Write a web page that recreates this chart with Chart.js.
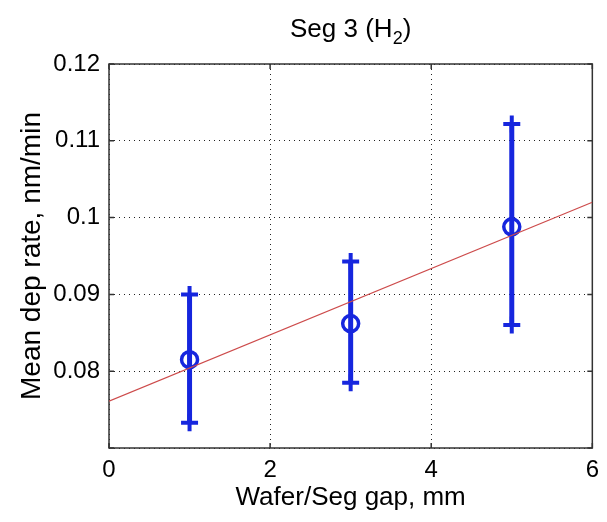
<!DOCTYPE html>
<html>
<head>
<meta charset="utf-8">
<script src="https://cdn.jsdelivr.net/npm/chart.js@4/dist/chart.umd.min.js"></script>
<style>
  html, body { margin: 0; padding: 0; background: #fff; }
  #wrap { width: 607px; height: 522px; }
</style>
</head>
<body>
<div id="wrap"><canvas id="chart"></canvas></div>
<script>
// Segment 3 (H2) deposition rate vs wafer/segment gap
const gaps = [1, 3, 5];
const meanRate = [0.0815, 0.0862, 0.0988];
const upperRate = [0.0900, 0.0943, 0.1122];
const lowerRate = [0.0733, 0.0785, 0.0860];

// linear fit line end points
const fitX = [0, 6];
const fitY = [0.0761, 0.1020];

const xTicks = [0, 2, 4, 6];
const yTicks = [0.07, 0.08, 0.09, 0.1, 0.11, 0.12];

const blue = 'rgb(22, 38, 222)';
const red = 'rgb(205, 75, 75)';
const font = 'Liberation Sans, Arial, Helvetica, sans-serif';

// fit line first so it is drawn on top
const datasets = [{
    data: fitX.map((x, i) => ({ x: x, y: fitY[i] })),
    showLine: true,
    borderColor: red,
    borderWidth: 1.2,
    pointRadius: 0
}, {
    data: gaps.map((g, i) => ({ x: g, y: meanRate[i] })),
    showLine: false,
    pointStyle: 'circle',
    pointRadius: 8,
    pointBorderWidth: 3.5,
    pointBorderColor: blue,
    pointBackgroundColor: 'rgba(0,0,0,0)'
}];

gaps.forEach((g, i) => {
    datasets.push({
        data: [{ x: g, y: lowerRate[i] }, { x: g, y: upperRate[i] }],
        showLine: true,
        borderColor: blue,
        borderWidth: 5,
        pointStyle: 'cross',
        pointRadius: 8.5,
        pointBorderWidth: 4,
        pointBorderColor: blue
    });
});

// solid frame, inward tick marks and the title with subscript
const framePlugin = {
    id: 'frame',
    beforeDatasetsDraw(chart) {
        const { ctx, chartArea: a, scales } = chart;
        ctx.save();
        ctx.strokeStyle = '#333';
        ctx.lineWidth = 1.5;
        ctx.strokeRect(a.left, a.top, a.right - a.left, a.bottom - a.top);
        ctx.beginPath();
        scales.x.ticks.forEach(t => {
            const px = scales.x.getPixelForValue(t.value);
            ctx.moveTo(px, a.bottom); ctx.lineTo(px, a.bottom - 5);
            ctx.moveTo(px, a.top); ctx.lineTo(px, a.top + 5);
        });
        scales.y.ticks.forEach(t => {
            const py = scales.y.getPixelForValue(t.value);
            ctx.moveTo(a.left, py); ctx.lineTo(a.left + 5, py);
            ctx.moveTo(a.right, py); ctx.lineTo(a.right - 5, py);
        });
        ctx.stroke();
        ctx.restore();
    },
    afterDraw(chart) {
        const { ctx, chartArea: a } = chart;
        const main = '26px ' + font;
        const sub = '18px ' + font;
        ctx.save();
        ctx.fillStyle = '#000';
        ctx.textBaseline = 'alphabetic';
        ctx.font = main;
        const w1 = ctx.measureText('Seg 3 (H').width;
        const w3 = ctx.measureText(')').width;
        ctx.font = sub;
        const w2 = ctx.measureText('2').width;
        let x = (a.left + a.right) / 2 - (w1 + w2 + w3) / 2;
        const y = 37;
        ctx.font = main;
        ctx.fillText('Seg 3 (H', x, y);
        x += w1;
        ctx.font = sub;
        ctx.fillText('2', x, y + 7);
        x += w2;
        ctx.font = main;
        ctx.fillText(')', x, y);
        ctx.restore();
    }
};

new Chart(document.getElementById('chart'), {
    type: 'scatter',
    data: { datasets: datasets },
    options: {
        responsive: true,
        maintainAspectRatio: false,
        animation: false,
        layout: { padding: { left: 0, right: 12, top: 64, bottom: 0 } },
        plugins: {
            legend: { display: false },
            tooltip: { enabled: false },
            title: { display: false }
        },
        scales: {
            x: {
                type: 'linear',
                min: 0,
                max: 6,
                afterBuildTicks: axis => { axis.ticks = xTicks.map(v => ({ value: v })); },
                afterFit: axis => { axis.height = 74; },
                ticks: {
                    color: '#000',
                    padding: 8,
                    font: { family: font, size: 24 },
                    callback: v => String(v)
                },
                grid: { color: '#222', lineWidth: 1, drawTicks: false },
                border: { display: false, dash: [1, 4] },
                title: {
                    display: true,
                    text: 'Wafer/Seg gap, mm',
                    color: '#000',
                    font: { family: font, size: 26, lineHeight: 1 },
                    padding: { top: 0, bottom: 11 }
                }
            },
            y: {
                type: 'linear',
                min: 0.07,
                max: 0.12,
                afterBuildTicks: axis => { axis.ticks = yTicks.map(v => ({ value: v })); },
                afterFit: axis => { axis.width = 109; },
                ticks: {
                    color: '#000',
                    padding: 9,
                    font: { family: font, size: 24 },
                    callback: v => (v < 0.075 ? '' : String(Number(v.toFixed(2))))
                },
                grid: { color: '#222', lineWidth: 1, drawTicks: false },
                border: { display: false, dash: [1, 4] },
                title: {
                    display: true,
                    text: 'Mean dep rate, nm/min',
                    color: '#000',
                    font: { family: font, size: 28, lineHeight: 1 },
                    padding: { top: 18, bottom: 0 }
                }
            }
        }
    },
    plugins: [framePlugin]
});
</script>
</body>
</html>
